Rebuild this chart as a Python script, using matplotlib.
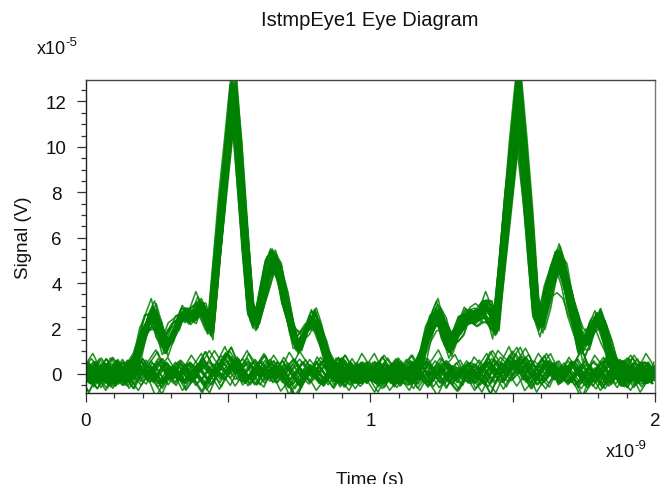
import numpy as np
import matplotlib
matplotlib.use("Agg")
import matplotlib.pyplot as plt
from matplotlib.ticker import MultipleLocator, FixedLocator

plt.rcParams['font.family'] = ['Liberation Sans', 'DejaVu Sans']

# Time axis in ns (one unit interval = 1 ns), signal in units of 1e-5 V
ui_step_ns = 0.02

# Single-bit response over one unit interval, sampled every 0.02 ns
pulse_v = [
    0.0, 0.0, 0.0, 0.0, 0.0, 0.0, 0.0, 0.0, 0.05, 0.8,
    1.7, 2.4, 2.7, 2.0, 1.25, 1.7, 2.2, 2.65, 2.55, 2.6,
    3.05, 2.75, 2.1, 4.7, 7.4, 10.1, 12.8, 9.8, 6.4, 3.0,
    2.3, 3.5, 4.6, 5.2, 4.6, 3.4, 2.3, 1.3, 1.5, 2.1,
    2.5, 2.0, 1.1, 0.4, 0.05, 0.0, 0.0, 0.0, 0.0, 0.0,
]

# Residual level of a "0" bit (small crosstalk bump near the main peak)
zero_v = [
    0.05, 0.05, 0.05, 0.05, 0.05, 0.05, 0.05, 0.05, 0.05, 0.05,
    0.05, 0.05, 0.05, 0.05, 0.05, 0.05, 0.05, 0.05, 0.05, 0.05,
    0.05, 0.05, 0.10, 0.18, 0.28, 0.35, 0.32, 0.20, 0.10, 0.05,
    0.08, 0.12, 0.12, 0.08, 0.05, 0.05, 0.02, 0.00, 0.00, 0.02,
    0.05, 0.05, 0.05, 0.05, 0.05, 0.05, 0.05, 0.05, 0.05, 0.05,
]

# Noise records, one unit interval each
noise_rows = [
    [0.10, 0.32, 0.05, -0.22, 0.12, 0.38, 0.10, -0.08, 0.20, -0.18,
     -0.32, 0.02, 0.28, 0.08, -0.14, 0.22, 0.36, 0.00, -0.26, -0.04,
     0.18, 0.30, 0.06, -0.20, 0.04, 0.26, -0.04, -0.30, 0.10, 0.34,
     0.14, -0.12, 0.06, 0.30, 0.10, -0.24, -0.06, 0.20, 0.40, 0.04,
     -0.16, 0.12, 0.28, -0.06, -0.32, 0.00, 0.24, 0.10, -0.14, 0.14],
    [-0.20, 0.05, 0.30, 0.12, -0.10, -0.35, -0.05, 0.22, 0.45, 0.10,
     -0.08, 0.18, -0.12, -0.40, -0.10, 0.15, 0.02, -0.22, 0.08, 0.30,
     0.55, 0.20, -0.05, 0.15, 0.35, 0.05, -0.18, -0.02, 0.24, 0.08,
     -0.26, -0.45, -0.10, 0.18, 0.02, -0.20, 0.10, 0.28, -0.02, -0.25,
     0.05, 0.32, 0.12, -0.15, 0.10, 0.40, 0.15, -0.12, -0.30, -0.05],
    [0.25, 0.05, -0.15, 0.10, 0.28, -0.02, -0.28, -0.50, -0.18, 0.08,
     0.30, 0.15, -0.08, 0.12, 0.32, 0.52, 0.20, -0.05, 0.14, -0.10,
     -0.30, -0.08, 0.16, 0.36, 0.12, -0.14, 0.06, 0.28, 0.48, 0.15,
     -0.05, -0.25, 0.02, 0.22, -0.06, -0.30, -0.12, 0.10, 0.26, 0.05,
     -0.20, -0.40, -0.12, 0.16, 0.38, 0.10, -0.10, 0.14, 0.30, 0.25],
    [-0.05, -0.30, -0.10, 0.20, 0.05, -0.15, 0.12, 0.34, 0.14, -0.06,
     0.18, 0.40, 0.65, 0.30, 0.05, -0.20, -0.02, 0.24, 0.06, -0.16,
     0.10, -0.12, -0.35, -0.08, 0.20, 0.42, 0.18, -0.02, -0.22, 0.04,
     0.26, 0.50, 0.22, 0.00, 0.18, -0.08, -0.34, -0.10, 0.14, -0.04,
     0.22, 0.44, 0.16, -0.08, -0.26, -0.06, 0.18, -0.02, -0.24, -0.05],
    [0.30, 0.12, 0.40, 0.18, -0.06, 0.10, -0.14, -0.38, -0.12, 0.16,
     -0.02, -0.26, -0.08, 0.20, 0.44, 0.16, -0.08, 0.12, 0.30, 0.06,
     -0.18, 0.02, 0.22, -0.04, -0.28, -0.55, -0.20, 0.06, 0.30, 0.12,
     -0.10, 0.16, 0.34, 0.08, -0.14, 0.06, 0.26, 0.02, -0.22, 0.02,
     0.28, 0.12, -0.10, 0.20, 0.42, 0.14, -0.10, -0.30, 0.00, 0.30],
    [-0.15, 0.08, -0.18, -0.42, -0.16, 0.10, 0.32, 0.08, -0.12, 0.14,
     0.36, 0.12, -0.10, -0.30, -0.06, 0.20, -0.04, -0.24, 0.02, 0.24,
     0.10, 0.35, 0.60, 0.28, 0.04, -0.14, 0.08, 0.30, 0.10, -0.14,
     -0.36, -0.12, 0.10, -0.08, -0.28, -0.05, 0.22, 0.42, 0.16, -0.04,
     0.14, -0.10, -0.34, -0.10, 0.12, 0.34, 0.08, -0.16, 0.06, -0.15],
    [0.05, 0.22, 0.45, 0.20, -0.04, -0.24, 0.00, 0.26, 0.06, -0.16,
     -0.40, -0.14, 0.10, 0.30, 0.08, -0.16, 0.06, 0.28, 0.10, -0.12,
     -0.30, -0.60, -0.25, 0.02, 0.24, 0.04, -0.18, 0.10, 0.32, 0.14,
     0.36, 0.12, -0.12, -0.32, -0.08, 0.16, 0.38, 0.70, 0.30, 0.06,
     -0.16, 0.04, 0.26, 0.06, -0.20, -0.42, -0.14, 0.12, 0.30, 0.05],
    [0.20, -0.06, -0.28, -0.04, 0.20, 0.42, 0.14, -0.08, -0.30, -0.10,
     0.14, 0.34, 0.06, -0.18, 0.04, 0.26, 0.48, 0.18, -0.04, 0.16,
     -0.08, -0.32, -0.06, 0.16, 0.36, 0.08, -0.16, -0.38, -0.14, 0.12,
     -0.06, -0.30, -0.50, -0.18, 0.06, 0.28, 0.04, -0.20, 0.02, 0.24,
     0.46, 0.18, -0.06, 0.14, -0.12, -0.36, -0.10, 0.18, 0.40, 0.20],
    [-0.30, -0.55, -0.22, 0.04, 0.26, 0.02, -0.20, 0.06, 0.28, 0.50,
     0.20, -0.02, 0.18, -0.06, -0.28, -0.08, 0.14, -0.06, -0.30, -0.10,
     0.16, 0.40, 0.14, -0.10, 0.10, 0.30, 0.55, 0.24, 0.00, -0.20,
     0.04, 0.28, 0.08, -0.16, 0.08, 0.34, 0.12, -0.10, -0.34, -0.12,
     0.10, 0.32, 0.06, -0.18, 0.06, 0.28, 0.50, 0.22, -0.04, -0.30],
    [0.00, 0.24, 0.06, -0.18, -0.40, -0.12, 0.14, 0.36, 0.12, -0.08,
     0.12, -0.12, -0.36, -0.60, -0.24, 0.04, 0.26, 0.08, -0.14, 0.08,
     0.30, 0.12, -0.12, 0.10, -0.12, -0.34, -0.10, 0.14, 0.38, 0.12,
     -0.08, 0.14, -0.10, -0.30, -0.08, 0.18, 0.40, 0.14, -0.06, 0.16,
     -0.06, -0.28, -0.04, 0.20, 0.44, 0.16, -0.06, -0.26, -0.02, 0.00],
]

# Noise gain applied to "0" and "1" bits
noise_gain_zero = 1.55
noise_gain_one = 1.0

# Captured sweeps: bit in each of the two unit intervals, pulse gain, timing offset (ns)
bits_ui1 = "101100110100111001011010011010110011010001101011001011010110"
bits_ui2 = "011010110011001011100101101001100110110110010110100110101001"
gain = [1.00, 0.97, 1.02, 0.95, 0.99, 1.03, 0.93, 0.98, 1.01, 0.96,
        0.99, 1.02, 0.94, 1.00, 0.97, 1.03, 0.92, 0.98, 1.01, 0.95,
        0.98, 1.00, 0.96, 1.02, 0.78, 0.99, 0.97, 1.01, 0.94, 1.00,
        1.02, 0.96, 0.99, 0.93, 1.01, 0.98, 1.03, 0.95, 0.97, 1.00,
        0.96, 1.01, 0.99, 0.94, 1.02, 0.97, 1.00, 0.91, 0.98, 1.03,
        0.95, 0.99, 1.02, 0.97, 0.93, 1.00, 0.96, 1.01, 0.98, 0.85]
jitter_ns = [-0.004, 0.006, -0.010, 0.002, 0.008, -0.006, 0.000, 0.010, -0.008, 0.004,
             -0.002, 0.007, -0.011, 0.003, 0.009, -0.005, 0.001, -0.009, 0.005, -0.003,
             0.006, -0.007, 0.002, 0.011, -0.004, 0.008, -0.010, 0.000, 0.004, -0.006,
             0.009, -0.002, 0.005, -0.008, 0.003, -0.012, 0.007, -0.001, 0.010, -0.005,
             0.013, -0.013, 0.001, 0.006, -0.007, 0.012, -0.003, 0.004, -0.009, 0.008,
             -0.001, 0.011, -0.006, 0.002, -0.011, 0.007, 0.000, -0.004, 0.009, -0.008]

x_ticks_major = [0, 0.5, 1, 1.5, 2]
x_tick_labels = ["0", "", "1", "", "2"]
y_ticks_major = [0, 2, 4, 6, 8, 10, 12]

title = "IstmpEye1 Eye Diagram"
x_label = "Time (s)"
y_label = "Signal (V)"

# ---------------------------------------------------------------------------
W, H = 663, 485
fig = plt.figure(figsize=(W / 100, H / 100), dpi=100)
left, right, top, bottom = 85.7, 655.0, 80.7, 394.0
ax = fig.add_axes([left / W, 1 - bottom / H, (right - left) / W, (bottom - top) / H])

pulse = np.array(pulse_v)
zero = np.array(zero_v)
noise = [np.array(r) for r in noise_rows]
grid = np.arange(len(pulse)) * ui_step_ns


def noise_variant(idx, variant):
    r = noise[idx % len(noise)]
    return [r, -r, r[::-1], -r[::-1]][variant % 4]


def segment(bit, g, nz):
    if bit == "1":
        return g * pulse + noise_gain_one * nz
    return zero + noise_gain_zero * nz


green = "#008000"
for k in range(len(gain)):
    s1 = segment(bits_ui1[k], gain[k], noise_variant(k, k // 10))
    s2 = segment(bits_ui2[k], gain[k], noise_variant(k + 3, 5 - k // 10))
    t = np.concatenate([[-ui_step_ns], grid, grid + 1.0, [2.0]]) + jitter_ns[k]
    v = np.concatenate([[s2[-1]], s1, s2, [s1[0]]])
    ax.plot(t, v, color=green, lw=1.15, alpha=0.85, solid_joinstyle="round")

ax.set_xlim(0, 2)
ax.set_ylim(-0.84, 12.96)

ax.xaxis.set_major_locator(FixedLocator(x_ticks_major))
ax.set_xticklabels(x_tick_labels)
ax.xaxis.set_minor_locator(MultipleLocator(0.1))
ax.yaxis.set_major_locator(FixedLocator(y_ticks_major))
ax.yaxis.set_minor_locator(MultipleLocator(0.5))

ax.tick_params(axis="both", which="major", direction="out", length=6.7, width=0.9,
               color="#333333", labelsize=13.5, labelcolor="#111111")
ax.tick_params(axis="both", which="minor", direction="out", length=3.8, width=0.9,
               color="#333333")
ax.tick_params(axis="x", which="major", pad=6.8)
ax.tick_params(axis="y", which="major", pad=14.3)
ax.tick_params(top=False, right=False, which="both")
for lab in ax.get_yticklabels():
    lab.set_horizontalalignment("center")

for side in ("left", "bottom"):
    ax.spines[side].set_color("#222222")
    ax.spines[side].set_linewidth(1.0)
ax.spines["top"].set_color("#444444")
ax.spines["right"].set_color("#777777")
ax.spines["top"].set_linewidth(1.0)
ax.spines["right"].set_linewidth(1.0)


def px_text(x, y, s, **kw):
    fig.text(x / W, 1 - y / H, s, **kw)


px_text(370, 20, title, fontsize=14.5, ha="center", va="center", color="#111111")
px_text(37, 50, "x10", fontsize=13, ha="left", va="center", color="#111111")
px_text(65, 43, "-5", fontsize=9.5, ha="left", va="center", color="#111111")
px_text(606, 453, "x10", fontsize=13, ha="left", va="center", color="#111111")
px_text(634, 446, "-9", fontsize=9.5, ha="left", va="center", color="#111111")
px_text(370, 472, x_label, fontsize=13.5, ha="center", va="top", color="#111111")
px_text(24, 237.5, y_label, fontsize=13.5, ha="center", va="center", rotation=90,
        color="#111111")

fig.savefig("out.png", dpi=100)
